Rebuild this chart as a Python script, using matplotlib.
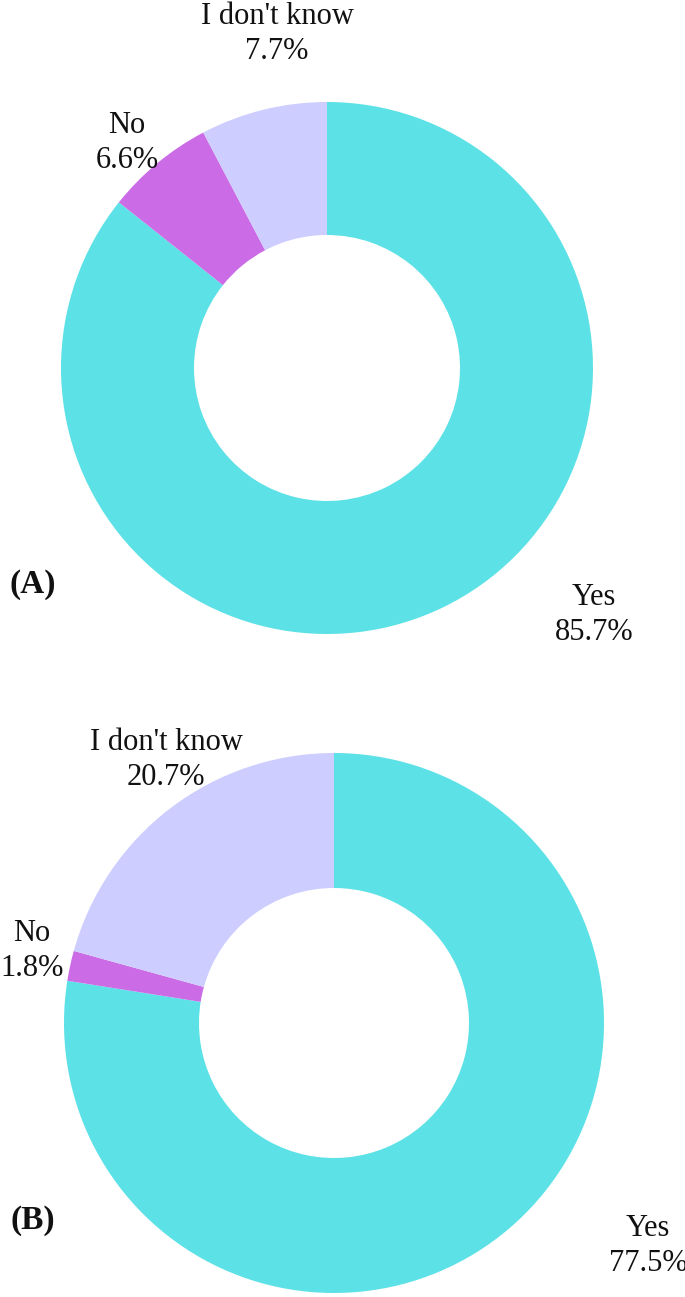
import matplotlib
matplotlib.use("Agg")
import matplotlib.pyplot as plt

# ---- data ----
categories = ["Yes", "No", "I don't know"]
values_a = [85.7, 6.6, 7.7]
values_b = [77.5, 1.8, 20.7]
panel_labels = ["(A)", "(B)"]
colors = ["#5ce1e6", "#cb6ce6", "#cdcdff"]

W, H = 685, 1297
plt.rcParams['font.family'] = ['Liberation Serif', 'DejaVu Serif']

fig = plt.figure(figsize=(W / 100, H / 100), dpi=100)
ax = fig.add_axes([0, 0, 1, 1])

# layout (pixel coordinates, y measured from top)
panels = [
    dict(values=values_a, center=(327, 368), radius=266, width=133,
         label_pos=[(594, 615), (127, 143), (277, 34)], tag_pos=(33, 585)),
    dict(values=values_b, center=(334, 1023), radius=270, width=135,
         label_pos=[(648, 1246), (32, 951), (166, 760)], tag_pos=(33, 1220)),
]

for p, tag in zip(panels, panel_labels):
    cx, cy = p["center"]
    ax.pie(p["values"], colors=colors, startangle=90, counterclock=False,
           center=(cx, H - cy), radius=p["radius"],
           wedgeprops=dict(width=p["width"], edgecolor="none", linewidth=0))
    for cat, val, (lx, ly) in zip(categories, p["values"], p["label_pos"]):
        ax.text(lx, H - ly, f"{cat}\n{val:.1f}%", ha="center", va="center",
                multialignment="center", fontsize=22, linespacing=1.25,
                color="#111111")
    tx, ty = p["tag_pos"]
    ax.text(tx, H - ty, tag, ha="center", va="center", fontsize=24,
            fontweight="bold", color="#111111")

ax.set_xlim(0, W)
ax.set_ylim(0, H)
ax.set_aspect("equal")
ax.axis("off")

fig.savefig("out.png", dpi=100, facecolor="white")
